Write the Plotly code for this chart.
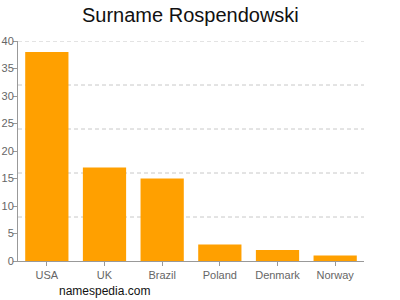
import plotly.graph_objects as go

countries = ["USA", "UK", "Brazil", "Poland", "Denmark", "Norway"]
counts = [38, 17, 15, 3, 2, 1]
y_ticks = [0, 5, 10, 15, 20, 25, 30, 35, 40]
grid_vals = [8, 16, 24, 32, 40]

fig = go.Figure(go.Bar(x=countries, y=counts, marker_color="#FFA000",
                       marker_line_width=0, width=0.75))

shapes = [dict(type="line", xref="paper", x0=0, x1=1, yref="y", y0=g, y1=g,
               line=dict(color="#C8C8C8", width=1, dash="4px,3px"), layer="below")
          for g in grid_vals]

fig.update_layout(
    width=400, height=300,
    margin=dict(l=18, r=36, t=41, b=39, autoexpand=False),
    paper_bgcolor="white", plot_bgcolor="white",
    font=dict(family="Liberation Sans, Arial, sans-serif", color="#666666", size=11),
    title=dict(text="Surname Rospendowski", x=0.476, xanchor="center", y=0.95, yanchor="middle",
               font=dict(size=20, color="#111111")),
    showlegend=False,
    shapes=shapes,
    xaxis=dict(showline=True, linecolor="#999999", linewidth=1, ticks="outside",
               ticklen=4, tickcolor="#999999", showgrid=False, fixedrange=True,
               automargin=False, ticklabelstandoff=0),
    yaxis=dict(range=[0, 40], tickvals=y_ticks, showline=True, linecolor="#999999",
               linewidth=1, ticks="outside", ticklen=4, tickcolor="#999999",
               showgrid=False, zeroline=False, ticklabelstandoff=-3, automargin=False),
    annotations=[dict(text="namespedia.com", xref="paper", yref="paper",
                      x=(104 - 18) / (400 - 18 - 36), xanchor="center",
                      y=(261 - 291) / 220, yanchor="middle", showarrow=False,
                      font=dict(size=12, color="#111111"))],
)
fig.write_html("out.html")
